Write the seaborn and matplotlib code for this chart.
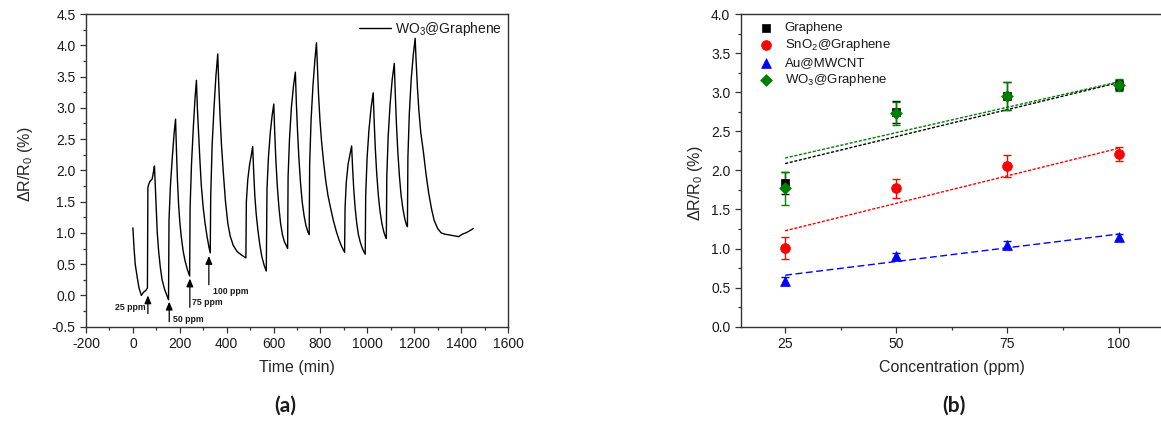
import numpy as np
import pandas as pd
import matplotlib
matplotlib.use('Agg')
import matplotlib.pyplot as plt
from matplotlib.ticker import MultipleLocator, FixedLocator
import seaborn as sns

# --- panel (a): WO3@Graphene response vs time ---
time_min = [
    0, 5, 10, 18, 26, 36, 45, 55, 62,
    64, 66, 72, 82, 88, 92,
    96, 100, 104, 110, 117, 124, 135, 145, 152,
    154, 160, 168, 176, 182,
    186, 190, 195, 200, 206, 214, 222, 232, 242,
    244, 250, 258, 265, 271,
    275, 280, 286, 292, 300, 308, 316, 324, 330,
    332, 338, 346, 354, 362,
    366, 372, 378, 386, 395, 405, 415, 428, 445, 462, 482,
    484, 490, 498, 504, 511,
    515, 520, 526, 533, 541, 550, 560, 569,
    572, 578, 586, 594, 601,
    605, 610, 616, 623, 630, 638, 646, 654, 660,
    662, 668, 676, 685, 693,
    697, 702, 708, 715, 722, 730, 738, 746, 752,
    754, 760, 768, 776, 783,
    787, 792, 798, 805, 813, 822, 832, 843, 855, 868, 880, 892, 903,
    905, 910, 918, 926, 933,
    937, 942, 948, 955, 962, 970, 978, 985, 991,
    993, 999, 1007, 1016, 1025,
    1029, 1034, 1040, 1047, 1054, 1062, 1070, 1076, 1081,
    1083, 1089, 1097, 1106, 1115,
    1119, 1124, 1130, 1137, 1144, 1152, 1160, 1166, 1171,
    1173, 1179, 1187, 1196, 1204,
    1208, 1214, 1220, 1228, 1239, 1250, 1262, 1274, 1285, 1300,
    1315, 1330, 1345, 1360, 1375, 1390, 1405, 1420, 1435, 1452,
]
response = [
    1.08, 0.75, 0.50, 0.30, 0.12, 0.00, 0.05, 0.08, 0.12,
    1.72, 1.76, 1.82, 1.86, 1.98, 2.07,
    1.70, 1.30, 1.00, 0.70, 0.45, 0.26, 0.10, 0.00, -0.07,
    1.20, 1.75, 2.20, 2.60, 2.82,
    2.30, 1.85, 1.45, 1.18, 0.95, 0.72, 0.56, 0.42, 0.31,
    1.40, 2.10, 2.70, 3.15, 3.44,
    3.00, 2.60, 2.15, 1.75, 1.40, 1.15, 0.95, 0.78, 0.68,
    1.60, 2.40, 3.00, 3.50, 3.86,
    3.40, 2.85, 2.40, 1.95, 1.50, 1.15, 0.95, 0.80, 0.70, 0.65, 0.60,
    1.50, 1.85, 2.10, 2.22, 2.38,
    2.00, 1.60, 1.30, 1.05, 0.82, 0.62, 0.48, 0.39,
    1.70, 2.20, 2.60, 2.88, 3.06,
    2.60, 2.15, 1.75, 1.40, 1.15, 0.97, 0.86, 0.80, 0.75,
    1.90, 2.50, 3.00, 3.35, 3.57,
    3.10, 2.65, 2.20, 1.80, 1.50, 1.28, 1.12, 1.02, 0.97,
    2.10, 2.80, 3.35, 3.75, 4.04,
    3.65, 3.20, 2.80, 2.45, 2.15, 1.85, 1.60, 1.40, 1.20, 1.02, 0.88, 0.77, 0.69,
    1.40, 1.80, 2.10, 2.25, 2.39,
    2.05, 1.70, 1.40, 1.15, 0.97, 0.85, 0.76, 0.70, 0.66,
    1.60, 2.20, 2.65, 3.00, 3.24,
    2.80, 2.35, 1.95, 1.60, 1.35, 1.15, 1.02, 0.95, 0.91,
    1.90, 2.55, 3.05, 3.45, 3.71,
    3.25, 2.75, 2.30, 1.90, 1.60, 1.38, 1.22, 1.14, 1.10,
    2.20, 2.90, 3.45, 3.85, 4.11,
    3.75, 3.30, 2.95, 2.60, 2.30, 1.95, 1.63, 1.38, 1.20, 1.07,
    1.00, 0.98, 0.97, 0.96, 0.95, 0.94, 0.98, 1.00, 1.03, 1.07,
]

# gas injection markers: label, time, arrow tail, arrow head
dose_labels = ['25 ppm', '50 ppm', '75 ppm', '100 ppm']
dose_times = [64, 155, 243, 324]
dose_tail = [-0.29, -0.42, -0.19, 0.17]
dose_head = [0.00, -0.10, 0.27, 0.63]

# --- panel (b): response vs concentration ---
concentration = [25, 50, 75, 100]
graphene = [1.84, 2.75, 2.95, 3.09]
graphene_err = [0.14, 0.14, 0.18, 0.06]
sno2 = [1.01, 1.77, 2.06, 2.21]
sno2_err = [0.14, 0.12, 0.14, 0.09]
au_mwcnt = [0.58, 0.90, 1.04, 1.15]
au_mwcnt_err = [0.05, 0.04, 0.05, 0.04]
wo3 = [1.77, 2.73, 2.95, 3.09]
wo3_err = [0.21, 0.15, 0.18, 0.08]

series_names = ['Graphene', 'SnO$_2$@Graphene', 'Au@MWCNT', 'WO$_3$@Graphene']

W, H = 1161, 437


def set_style():
    sns.set_theme(style='ticks')
    plt.rcParams['font.family'] = ['Liberation Sans', 'DejaVu Sans']
    plt.rcParams['mathtext.default'] = 'regular'
    plt.rcParams['axes.unicode_minus'] = False
    plt.rcParams['axes.edgecolor'] = '#333333'
    plt.rcParams['axes.linewidth'] = 1.0
    plt.rcParams['text.color'] = '#1a1a1a'
    plt.rcParams['xtick.color'] = '#333333'
    plt.rcParams['ytick.color'] = '#333333'
    plt.rcParams['xtick.labelcolor'] = '#1a1a1a'
    plt.rcParams['ytick.labelcolor'] = '#1a1a1a'


def style_axes(ax):
    ax.tick_params(which='both', direction='out', top=False, right=False, labelsize=10, width=0.9)
    ax.tick_params(which='major', length=4)
    ax.tick_params(which='minor', length=2.2)
    for side in ['top', 'right', 'left', 'bottom']:
        ax.spines[side].set_visible(True)


def panel_a(fig):
    ax = fig.add_axes([86 / W, 1 - 326.7 / H, 422 / W, 312.7 / H])
    df = pd.DataFrame({'t': time_min, 'r': response})
    sns.lineplot(data=df, x='t', y='r', ax=ax, color='black', linewidth=1.0,
                 estimator=None, sort=False, label='WO$_3$@Graphene')
    ax.set_xlim(-200, 1600)
    ax.set_ylim(-0.5, 4.5)
    ax.xaxis.set_major_locator(MultipleLocator(200))
    ax.xaxis.set_minor_locator(MultipleLocator(100))
    ax.yaxis.set_major_locator(MultipleLocator(0.5))
    ax.yaxis.set_minor_locator(MultipleLocator(0.25))
    ax.yaxis.set_major_formatter(plt.FormatStrFormatter('%.1f'))
    style_axes(ax)

    for lab, t, y0, y1 in zip(dose_labels, dose_times, dose_tail, dose_head):
        ax.annotate('', xy=(t, y1), xytext=(t, y0),
                    arrowprops=dict(arrowstyle='-|>,head_length=0.4,head_width=0.17',
                                    color='black', lw=0.9, shrinkA=0, shrinkB=0))
    # label placement next to each arrow
    ax.text(dose_times[0] - 10, -0.19, dose_labels[0], ha='right', va='center', fontsize=6.3, fontweight='bold')
    ax.text(dose_times[1] + 18, -0.38, dose_labels[1], ha='left', va='center', fontsize=6.3, fontweight='bold')
    ax.text(dose_times[2] + 11, -0.11, dose_labels[2], ha='left', va='center', fontsize=6.3, fontweight='bold')
    ax.text(dose_times[3] + 17, 0.06, dose_labels[3], ha='left', va='center', fontsize=6.3, fontweight='bold')

    ax.set_xlabel('Time (min)', fontsize=11.5)
    ax.set_ylabel('ΔR/R$_0$ (%)', fontsize=11.5)
    ax.xaxis.set_label_coords(0.5, -0.105)
    ax.yaxis.set_label_coords(-0.12, 0.52)
    ax.legend(loc='upper right', frameon=False, fontsize=10, handlelength=2.3,
              handletextpad=0.3, borderaxespad=0.2, borderpad=0.25)
    return ax


def panel_b(fig):
    ax = fig.add_axes([740.7 / W, 1 - 326.7 / H, 422.3 / W, 312.7 / H])
    x = np.array(concentration, dtype=float)
    data = [graphene, sno2, au_mwcnt, wo3]
    errs = [graphene_err, sno2_err, au_mwcnt_err, wo3_err]
    colors = ['black', '#ff0000', '#0000ff', '#008000']
    markers = ['s', 'o', '^', 'D']
    sizes = [38, 50, 50, 36]
    dashes = [(0, (2.2, 1.2)), (0, (2.2, 1.2)), (0, (5, 2.5)), (0, (2.2, 1.2))]

    # weighted linear fits (instrumental weighting)
    fit_x = np.array([25.0, 100.0])
    for vals, err, col, ls in zip(data, errs, colors, dashes):
        slope, icpt = np.polyfit(x, vals, 1, w=1 / np.array(err))
        sns.lineplot(x=fit_x, y=slope * fit_x + icpt, ax=ax, color=col, linewidth=1.0,
                     linestyle=ls, legend=False, zorder=2)

    for vals, err, col, mk, sz, name in zip(data, errs, colors, markers, sizes, series_names):
        ax.errorbar(x, vals, yerr=err, fmt='none', ecolor=col, elinewidth=1.0,
                    capsize=2.6, capthick=1.0, zorder=3)
        sns.scatterplot(x=x, y=vals, ax=ax, marker=mk, color=col, s=sz,
                        edgecolor=col, linewidth=0.5, label=name, zorder=4)

    ax.set_xlim(15, 110)
    ax.set_ylim(0, 4.0)
    ax.xaxis.set_major_locator(FixedLocator(concentration))
    ax.xaxis.set_minor_locator(FixedLocator([37.5, 62.5, 87.5]))
    ax.yaxis.set_major_locator(MultipleLocator(0.5))
    ax.yaxis.set_minor_locator(MultipleLocator(0.25))
    ax.yaxis.set_major_formatter(plt.FormatStrFormatter('%.1f'))
    style_axes(ax)

    ax.set_xlabel('Concentration (ppm)', fontsize=11.5)
    ax.set_ylabel('ΔR/R$_0$ (%)', fontsize=11.5)
    ax.xaxis.set_label_coords(0.5, -0.105)
    ax.yaxis.set_label_coords(-0.085, 0.46)
    ax.legend(loc='upper left', bbox_to_anchor=(0.026, 1.0), frameon=False, fontsize=9.5,
              handlelength=1.0, handletextpad=0.9, borderaxespad=0.3, borderpad=0.3,
              labelspacing=0.25)
    return ax


def main():
    set_style()
    fig = plt.figure(figsize=(W / 100, H / 100), dpi=100)
    panel_a(fig)
    panel_b(fig)
    fig.text(285 / W, 1 - 406 / H, '(a)', ha='center', va='center', fontsize=15,
             fontweight='bold', family=['Lato', 'DejaVu Sans'])
    fig.text(954 / W, 1 - 406 / H, '(b)', ha='center', va='center', fontsize=15,
             fontweight='bold', family=['Lato', 'DejaVu Sans'])
    fig.savefig('out.png', dpi=100)
    plt.close(fig)


if __name__ == '__main__':
    main()
